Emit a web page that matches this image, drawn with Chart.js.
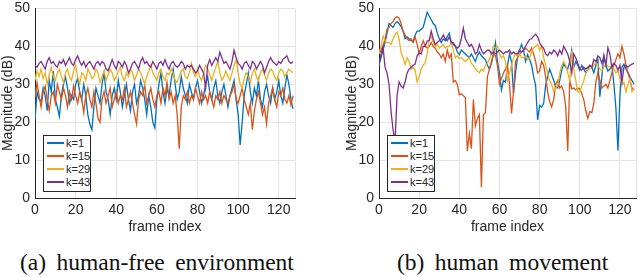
<!DOCTYPE html>
<html>
<head>
<meta charset="utf-8">
<script src="https://cdn.jsdelivr.net/npm/chart.js@4.4.1/dist/chart.umd.min.js"></script>
<style>
  body { margin: 0; background: #fff; width: 640px; height: 277px; position: relative; overflow: hidden; }
  .plot { position: absolute; top: -5px; }
  .legend { position: absolute; top: 135px; width: 46px; height: 54px; border: 1px solid #262626; background: #fff;
            font: 11px "Liberation Sans", Arial, sans-serif; color: #262626; padding-top: 1px; box-sizing: content-box; }
  .legend div { height: 13px; line-height: 13px; white-space: nowrap; }
  .legend span { display: inline-block; width: 17px; height: 2px; margin: 0 2px 0 3px; vertical-align: middle; position: relative; top: -1px; }
  .caption { position: absolute; top: 249px; font: 23.5px "Liberation Serif", "Times New Roman", serif; color: #111; word-spacing: 4.5px; white-space: nowrap; }
</style>
</head>
<body>
<canvas id="chartA" class="plot" width="310" height="245" style="left:0px"></canvas>
<canvas id="chartB" class="plot" width="296" height="245" style="left:344px"></canvas>
<div id="legendA" class="legend" style="left:43px"></div>
<div id="legendB" class="legend" style="left:387px"></div>
<div class="caption" style="left:20px">(a) human-free environment</div>
<div class="caption" style="left:397px">(b) human movement</div>
<script>
// frame index 0..127
const frames = Array.from({ length: 128 }, (_, i) => i);
const seriesLabels = ["k=1", "k=15", "k=29", "k=43"];
const seriesColors = ["#0072BD", "#D95319", "#EDB120", "#7E2F8E"];
const xTicks = [0, 20, 40, 60, 80, 100, 120];
const yTicks = [0, 10, 20, 30, 40, 50];

// (a) human-free environment
const freeK1 = [
  20.5, 28, 26, 25.5, 29, 27, 23, 31, 28, 33.5, 26, 24, 21.5, 27, 30, 32,
  29, 25, 27, 26, 30, 31.5, 28, 26, 30, 27, 22, 19.5, 18, 24, 29, 27,
  25, 30, 33, 28, 26, 22, 27, 29, 26, 31, 28, 24, 27, 30, 26, 23,
  28, 30, 25, 27, 31, 29, 26, 22, 27, 24, 20, 18.5, 26, 30, 33, 28,
  25, 29, 27, 31, 34, 30, 26, 28, 32, 29, 27, 25, 30, 28, 26, 29,
  31, 28, 25, 27, 30, 32, 28, 26, 29, 31, 27, 25, 28, 30, 27, 24,
  27, 29, 31, 26, 22, 14, 20, 27, 30, 33, 28, 25, 29, 27, 31, 26,
  24, 28, 30, 27, 25, 29, 26, 28, 31, 27, 25, 29, 32.5, 30, 26, 23.5
];
const freeK15 = [
  26.5, 30.5, 27, 24, 28, 29.5, 26, 23, 27, 28, 25, 30, 28, 26, 29, 27,
  24, 28, 26, 29.5, 27, 25, 28, 26, 22.5, 27, 29, 26, 24, 28, 25, 21,
  20, 26, 28, 25, 27, 29, 24, 26, 28, 25, 27, 26, 29, 24, 26, 28,
  25, 22, 19.5, 26, 28, 27, 30, 25, 27, 29, 26, 24, 27, 28, 25, 29,
  27, 30.5, 26, 28, 25, 27, 22, 13, 24, 27, 26, 28, 25, 27, 26, 29,
  27, 25, 28, 26, 27, 25, 28, 26, 24, 27, 26, 28, 25, 27, 26, 25,
  27, 28, 30, 26, 25, 27, 29, 26, 24, 22, 25, 18, 23, 26, 28, 25,
  22, 24, 19.5, 25, 27, 29, 26, 24, 28, 27, 29, 26, 25, 27, 24.5, 27
];
const freeK29 = [
  31, 33.5, 32, 34, 31.5, 33, 30, 32.5, 34.5, 32, 31, 33, 34, 32, 30.5, 33,
  34, 32, 31, 33.5, 35, 32, 30, 33, 32.5, 31, 34, 33, 31.5, 32, 34, 33,
  30.5, 32, 33.5, 31, 32.5, 34, 33, 31, 32, 33.5, 34.5, 32, 31, 33, 32, 34,
  33, 31, 32.5, 34, 33, 31.5, 30, 32, 33.5, 35, 33, 32, 31, 33, 34, 32,
  31, 33, 32.5, 34, 33, 31, 30.5, 32, 33.5, 34, 32, 31.5, 33, 35.5, 33, 32,
  34, 32, 31, 33, 35, 34, 32.5, 31, 33, 34.5, 36, 33, 31, 32, 33.5, 32,
  31, 33, 35, 36.5, 33, 30, 29, 31.5, 33, 32, 30.5, 33, 34, 32, 31, 33,
  34, 32.5, 31, 33, 34, 33.5, 32, 31, 33, 34, 33.5, 32, 33, 34, 33.5, 33
];
const freeK43 = [
  35, 34.5, 35.5, 36, 35, 34, 36, 37, 35.5, 36, 35, 34.5, 36, 35.5, 36.5, 35,
  36, 37, 35.5, 35, 36.5, 37.5, 36, 35, 36, 34.5, 35.5, 36, 35, 34, 35.5, 36,
  35, 36, 35.5, 34, 33.5, 35, 36.5, 35, 34, 36, 35.5, 34.5, 36, 35, 33, 34,
  35.5, 36, 35, 34, 36, 37, 35.5, 36, 35, 34.5, 36, 35, 34, 35.5, 36, 35,
  36.5, 35, 34, 35.5, 36, 35, 34.5, 35, 36, 35.5, 34, 35, 34.5, 35, 34, 33,
  33.5, 35, 34, 33, 29, 35, 36.5, 35, 36, 37, 36, 38.5, 37, 35.5, 36, 35,
  34, 36, 39, 37, 35.5, 35, 34, 35.5, 36, 35, 34, 36, 35.5, 34, 35, 36,
  35, 33, 34.5, 36, 37, 36, 35.5, 35, 36, 35.5, 36.5, 37, 37.5, 36, 35.5, 36
];

// (b) human movement
const moveK1 = [
  35, 37, 39, 41, 43.5, 46, 45.5, 45, 46, 46.5, 46, 45.2, 44, 42, 42.5, 42,
  41.5, 41.3, 43, 44, 44, 44.5, 45, 47, 49, 48, 47, 46, 45.5, 43.6, 42, 41,
  42, 41.5, 42.5, 43.5, 41, 40.5, 40, 38.5, 37.8, 39, 38.5, 38, 37.5, 37, 38, 37,
  36, 37.5, 38.5, 37.5, 37, 36.5, 35, 34, 35.5, 38, 41, 36, 33, 28.5, 31, 30.6,
  35, 38, 36, 27.5, 33, 37, 39, 40.5, 39, 36, 37.8, 36.5, 35, 32, 29.7, 20.6,
  24.4, 24, 25, 29.7, 32, 34, 32.5, 31, 29.3, 29, 31, 33.7, 35.3, 34.5, 34, 36,
  39, 34.5, 36, 35, 33.7, 35, 34, 33, 34, 35, 34.5, 33, 35, 36.5, 26.7, 32,
  37.5, 35, 33.5, 34, 35, 30, 23.6, 12.5, 27, 34.5, 35.3, 34, 33, 32, 31, 30
];
const moveK15 = [
  38, 39, 40, 42, 44.5, 45, 46, 46.5, 47.5, 47.8, 47.4, 46, 44, 43, 42, 41.5,
  42, 41, 42.5, 40.5, 38, 40, 41.5, 40, 39.5, 40, 41, 40, 39.5, 38.5, 38, 37,
  38, 36, 39, 37, 38, 30.6, 31, 30, 27.2, 27.5, 27, 26.5, 12.4, 17, 13, 26,
  19, 21, 22, 2.9, 22, 22.5, 32, 34, 36, 38, 37.5, 35, 30, 31.5, 33, 34,
  35, 30, 22.3, 28, 36, 37, 38, 38.5, 39, 39.5, 39, 38.5, 39.5, 38, 36, 33,
  33.5, 36, 35, 32, 28, 25.4, 24, 26, 30, 31, 29, 29.5, 28, 24, 12.4, 31,
  28.8, 29, 28.5, 29, 28.8, 27.5, 25.9, 23, 21, 22.8, 22.5, 25, 30.6, 33, 31, 29,
  29.5, 30, 29, 31, 33, 35, 36.5, 38, 37, 40, 38, 35, 33, 31, 29, 28.5
];
const moveK29 = [
  38, 40, 42.7, 41.5, 41, 41, 40.5, 42, 43.2, 43.7, 42, 38.3, 37, 35.2, 37, 36,
  34, 34.5, 33.6, 30.6, 32, 34, 35, 35.7, 38, 41.8, 42.7, 41, 40, 40.5, 39.5, 40,
  40.5, 39.5, 40, 40, 41, 39, 37, 37.5, 36.8, 37, 36.5, 36, 36.5, 37, 35.5, 35,
  34, 33.5, 33, 34, 33.5, 35, 35.5, 36.8, 38, 40, 39.5, 40, 38, 37, 37.5, 36,
  31, 33, 35, 37, 38, 37.5, 38, 37, 37, 37.5, 36.5, 37, 38.5, 39.5, 40, 40.5,
  39, 40, 37, 35, 33, 31, 30, 28, 29, 29.7, 33, 34.9, 36, 35, 33, 31,
  38.8, 34, 31, 28, 28, 29.5, 31, 33, 34, 34, 34.5, 35, 35.7, 35, 34, 33.5,
  34.5, 35.3, 34.8, 34.5, 35, 34, 33, 33.5, 31.5, 30, 30.5, 28, 30, 31.5, 28, 29
];
const moveK43 = [
  35.3, 38, 40, 34.5, 33, 30, 22.8, 18, 15, 27, 30.6, 29.5, 29, 30.6, 33, 34,
  34.5, 35, 35.3, 37.5, 38.3, 38, 40, 40, 41.4, 41.5, 44, 42, 40.5, 41, 41.5, 42,
  43, 42, 41.5, 42.5, 41, 41, 40, 39.5, 40, 42, 44.8, 42, 41, 40, 40.5, 39.5,
  38, 38.5, 40.5, 39, 38, 38.5, 39, 39, 38, 38.5, 38, 38.5, 39, 38.5, 38, 38.5,
  38.5, 39, 38, 38.5, 38, 38, 39, 38.5, 39, 40, 41, 41.8, 42, 42.7, 43.2, 42.5,
  41, 40, 39.5, 38, 37.5, 38.5, 38, 39, 38.5, 37.5, 39, 38, 40, 39, 38, 36,
  33, 38, 37, 35.5, 34, 33.7, 34.5, 34, 34.5, 35, 34.5, 36.5, 36, 37.5, 37, 35.5,
  37.5, 35, 39.6, 38, 34.5, 35.5, 35, 33.7, 35, 30.5, 34.5, 35, 34.5, 35, 35.3, 35.5
];

const axisColor = "#262626";
const gridColor = "#e5e5e5";
const tickFont = { family: "'Liberation Sans', Arial, sans-serif", size: 14 };

function makeChart(canvasId, seriesList, rightPad) {
  const datasets = seriesList.map((vals, s) => ({
    label: seriesLabels[s],
    data: vals.map((v, i) => ({ x: frames[i], y: v })),
    borderColor: seriesColors[s],
    backgroundColor: seriesColors[s],
    borderWidth: 1.3,
    pointRadius: 0,
    tension: 0,
    order: seriesList.length - s, // last series on top, like MATLAB
  }));

  return new Chart(document.getElementById(canvasId), {
    type: "line",
    data: { datasets },
    options: {
      responsive: false,
      animation: false,
      events: [],
      layout: { padding: { top: 10, right: rightPad, left: 0, bottom: 0 } },
      plugins: { legend: { display: false }, tooltip: { enabled: false } },
      scales: {
        x: {
          type: "linear",
          min: 0,
          max: 128,
          afterBuildTicks: (scale) => {
            scale.ticks = xTicks.concat([128]).map((v) => ({ value: v }));
          },
          afterFit: (scale) => { scale.height = 42; },
          ticks: {
            color: axisColor,
            font: tickFont,
            padding: 4,
            maxRotation: 0,
            autoSkip: false,
            callback: (v) => (xTicks.includes(v) ? String(v) : ""),
          },
          grid: { color: gridColor, drawTicks: false },
          border: { color: axisColor, width: 1 },
          title: { display: true, text: "frame index", color: axisColor, font: tickFont, padding: { top: 0, bottom: 4 } },
        },
        y: {
          min: 0,
          max: 50,
          afterBuildTicks: (scale) => {
            scale.ticks = yTicks.map((v) => ({ value: v }));
          },
          afterFit: (scale) => { scale.width = 35; },
          ticks: { color: axisColor, font: tickFont, padding: 5 },
          grid: { color: gridColor, drawTicks: false },
          border: { color: axisColor, width: 1 },
          title: { display: true, text: "Magnitude (dB)", color: axisColor, font: tickFont, padding: { top: 0, bottom: 0 } },
        },
      },
    },
  });
}

function makeLegend(divId) {
  const box = document.getElementById(divId);
  seriesLabels.forEach((label, s) => {
    const row = document.createElement("div");
    const sw = document.createElement("span");
    sw.style.background = seriesColors[s];
    row.appendChild(sw);
    row.appendChild(document.createTextNode(label));
    box.appendChild(row);
  });
}

makeChart("chartA", [freeK1, freeK15, freeK29, freeK43], 15);
makeChart("chartB", [moveK1, moveK15, moveK29, moveK43], 1);
makeLegend("legendA");
makeLegend("legendB");
</script>
</body>
</html>
